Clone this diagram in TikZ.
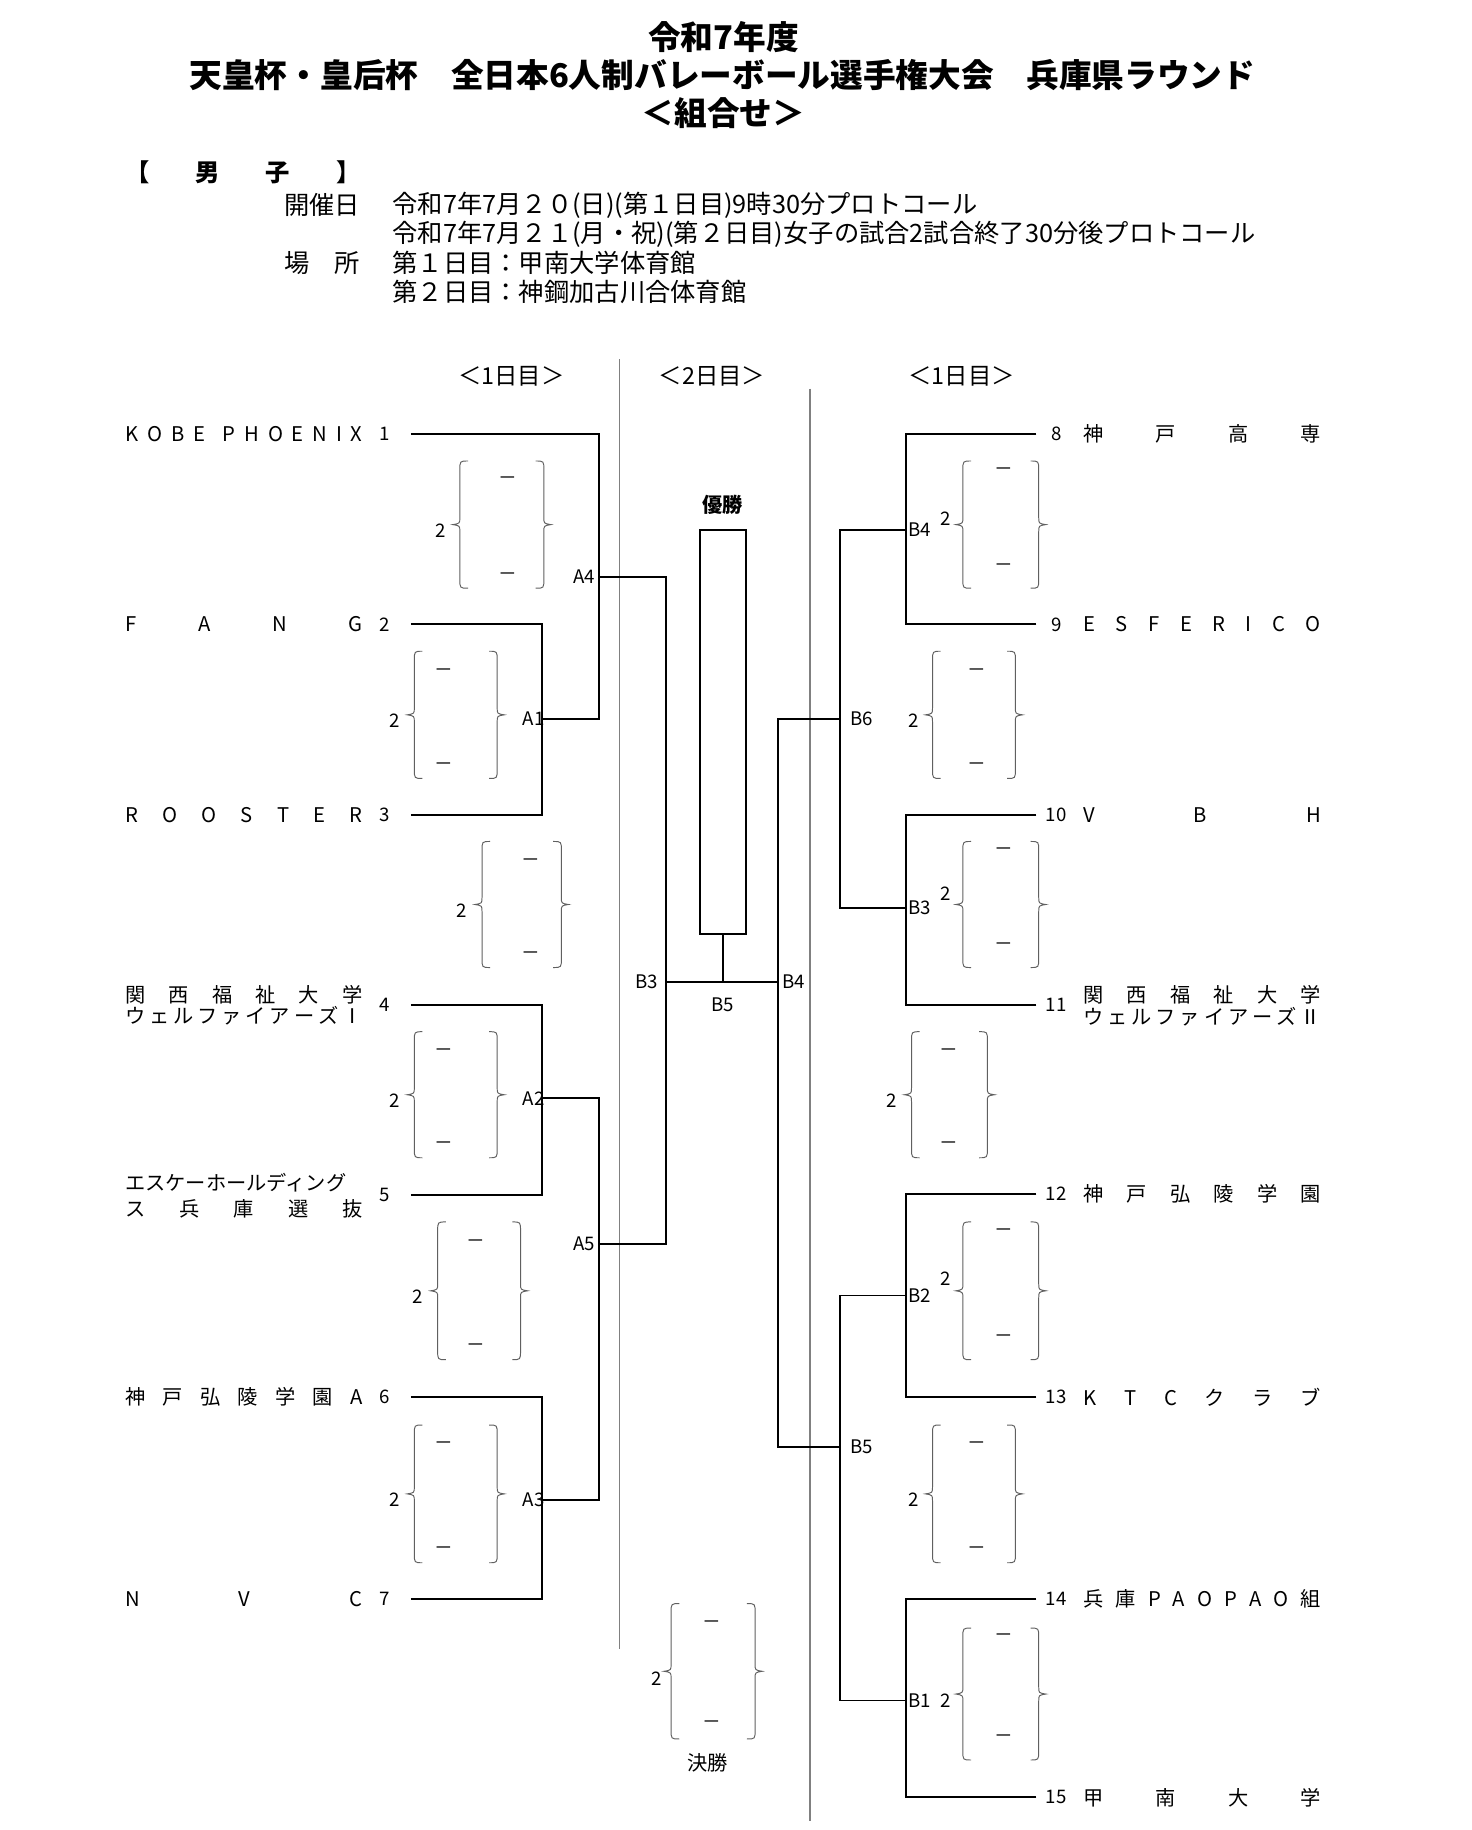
\documentclass[tikz,border=0pt]{standalone}
\usepackage{fontspec}
\setmainfont{Noto Sans CJK JP}
\newcommand{\tname}[1]{\makebox[122pt][s]{#1}}

\begin{document}
\begin{tikzpicture}[x=0.6pt,y=-0.6pt,
  every node/.style={inner sep=0pt},
  bline/.style={line width=1pt},
  divline/.style={gray,line width=0.6pt},
  brc/.style={gray!75!black,line width=0.5pt},
  title/.style={font=\fontsize{16.8}{20}\selectfont\bfseries},
  head/.style={font=\fontsize{13}{15}\selectfont},
  team/.style={font=\fontsize{10.4}{12}\selectfont,anchor=west},
  num/.style={font=\fontsize{9.6}{11}\selectfont}]
\useasboundingbox (0,0) rectangle (1261,1568);

\node[title] (ttl1) at (620,32) {令和7年度};
\node[title] (ttl2) at (619,64) {天皇杯・皇后杯　全日本6人制バレーボール選手権大会　兵庫県ラウンド};
\node[title] (ttl3) at (620,97) {＜組合せ＞};

\node[head,anchor=west,font=\fontsize{12.5}{15}\selectfont\bfseries] (sex) at (107,148) {\makebox[121pt][s]{【 男 子 】}};
\node[head,anchor=east] (kaisai) at (309,176) {開催日};
\node[head,anchor=west] (date1) at (336,176) {令和7年7月２０(日)(第１日目)9時30分プロトコール};
\node[head,anchor=west] (date2) at (336,201) {令和7年7月２１(月・祝)(第２日目)女子の試合2試合終了30分後プロトコール};
\node[head,anchor=east] (basho) at (309,225) {場　所};
\node[head,anchor=west] (place1) at (336,225) {第１日目：甲南大学体育館};
\node[head,anchor=west] (place2) at (336,250) {第２日目：神鋼加古川合体育館};

\node[team,anchor=center,font=\fontsize{12}{14}\selectfont] (day1l) at (438,322) {＜1日目＞};
\node[team,anchor=center,font=\fontsize{12}{14}\selectfont] (day2) at (610,322) {＜2日目＞};
\node[team,anchor=center,font=\fontsize{12}{14}\selectfont] (day1r) at (824,322) {＜1日目＞};
\draw[divline] (531,308) -- (531,1413);
\draw[divline] (694,333) -- (694,1560);

% left teams
\foreach \n/\y/\nm in {1/372/{K O B E\ \ P H O E N I X},2/535/{F A N G},3/698/{R O O S T E R},6/1197/{神 戸 弘 陵 学 園 A},7/1370/{N V C}}
  \node[team] (name\n) at (107,\y) {\tname{\nm}};
\node[team] (name4a) at (107,852) {\tname{関 西 福 祉 大 学}};
\node[team] (name4b) at (107,870) {\tname{ウ ェ ル フ ァ イ ア ー ズ Ⅰ}};
\node[team] (name5a) at (107,1013) {\tname{エスケーホールディング}};
\node[team] (name5b) at (107,1036) {\tname{ス 兵 庫 選 抜}};
\foreach \n/\y in {1/372,2/535,3/698,4/861,5/1024,6/1197,7/1370}{
  \node[num] (n\n) at (330,\y) {\n};
  \coordinate (t\n) at (352,\y);
}

% right teams
\foreach \n/\y/\nm in {8/372/{神 戸 高 専},9/535/{E S F E R I C O},10/698/{V B H},12/1023/{神 戸 弘 陵 学 園},13/1197/{K T C ク ラ ブ},14/1370/{兵 庫 P A O P A O 組},15/1540/{甲 南 大 学}}
  \node[team] (name\n) at (928,\y) {\tname{\nm}};
\node[team] (name11a) at (928,852) {\tname{関 西 福 祉 大 学}};
\node[team] (name11b) at (928,871) {\tname{ウ ェ ル フ ァ イ ア ー ズ Ⅱ}};
\foreach \n/\y in {8/372,9/535,10/698,11/861,12/1023,13/1197,14/1370,15/1540}{
  \node[num] (n\n) at (905,\y) {\n};
  \coordinate (t\n) at (888,\y);
}

% junctions
\coordinate (A1) at (464,616);
\coordinate (A2) at (464,941);
\coordinate (A3) at (464,1285);
\coordinate (A4) at (513,494);
\coordinate (A5) at (513,1066);
\coordinate (cl) at (571,841);
\coordinate (cr) at (667,841);
\coordinate (fin) at (619.5,841);
\coordinate (rB4) at (776,454);
\coordinate (rB3) at (776,778);
\coordinate (rB2) at (776,1110);
\coordinate (rB1) at (776,1457);
\coordinate (rB6) at (720,616);
\coordinate (rB5) at (720,1240);

\draw[bline] (t2) -| (A1) (t3) -| (A1) (t4) -| (A2) (t5) -| (A2) (t6) -| (A3) (t7) -| (A3)
  (t1) -| (A4) (A1) -| (A4) (A2) -| (A5) (A3) -| (A5) (A4) -| (cl) (A5) -| (cl);
\draw[bline] (t8) -| (rB4) (t9) -| (rB4) (t10) -| (rB3) (t11) -| (rB3) (t12) -| (rB2) (t13) -| (rB2)
  (t14) -| (rB1) (t15) -| (rB1) (rB4) -| (rB6) (rB3) -| (rB6) (rB2) -| (rB5) (rB1) -| (rB5)
  (rB6) -| (cr) (rB5) -| (cr);
\draw[bline] (cl) -- (cr);
\node[draw,line width=1pt,minimum width=23.4pt,minimum height=207.6pt] (win) at (619.5,627) {};
\draw[bline] (fin) -- (win.south);
\node[num,font=\fontsize{10.4}{12}\selectfont\bfseries] (yusho) at (619,433) {優勝};
\node[team,anchor=center] (kessho) at (606,1510) {決勝};

\node[num,anchor=east] (lA1) at (467,616) {A1};
\node[num,anchor=east] (lA2) at (467,941) {A2};
\node[num,anchor=east] (lA3) at (467,1285) {A3};
\node[num,anchor=east] (lA4) at (510,494) {A4};
\node[num,anchor=east] (lA5) at (510,1066) {A5};
\node[num,anchor=east] (lB3) at (564,841) {B3};
\node[num,anchor=west] (lB4) at (670,841) {B4};
\node[num] (lB5) at (619,861) {B5};
\node[num,anchor=west] (rlB4) at (778,454) {B4};
\node[num,anchor=west] (rlB3) at (778,778) {B3};
\node[num,anchor=west] (rlB2) at (778,1110) {B2};
\node[num,anchor=west] (rlB1) at (778,1457) {B1};
\node[num,anchor=west] (rlB6) at (728,616) {B6};
\node[num,anchor=west] (rlB5) at (728,1240) {B5};

% score braces
\foreach \xl/\xr/\yt/\yb/\dx/\tx/\ty/\da/\db [count=\k] in {
  394/466/395/504/435/378/5/17/10, 355/426/558/667/380/338/5/18/10,
  413/481/721/829/455/396/5/18/10, 355/426/884/992/380/338/5/18/10,
  375/446/1047/1165/408/358/5/19/10, 355/426/1221/1339/380/338/5/18/10,
  825/890/395/504/860/810/-5/9/18, 799/870/558/667/837/783/5/18/10,
  825/890/721/829/860/810/-9/9/18, 781/846/884/992/813/764/5/18/10,
  825/890/1047/1165/860/810/-10/9/18, 799/870/1221/1339/837/783/5/18/10,
  825/890/1395/1508/860/810/6/8/18, 575/647/1374/1490/610/563/6/18/12}{
  \pgfmathsetmacro\ym{(\yt+\yb)/2}
  \draw[brc] (\xl+7,\yt) .. controls (\xl,\yt) .. (\xl,\yt+8) -- (\xl,\ym-6)
    .. controls (\xl,\ym-1) .. (\xl-6,\ym) .. controls (\xl,\ym+1) .. (\xl,\ym+6)
    -- (\xl,\yb-8) .. controls (\xl,\yb) .. (\xl+7,\yb);
  \draw[brc] (\xr-7,\yt) .. controls (\xr,\yt) .. (\xr,\yt+8) -- (\xr,\ym-6)
    .. controls (\xr,\ym-1) .. (\xr+6,\ym) .. controls (\xr,\ym+1) .. (\xr,\ym+6)
    -- (\xr,\yb-8) .. controls (\xr,\yb) .. (\xr-7,\yb);
  \node[num] (sc\k) at (\tx,\ym+\ty) {2};
  \node[num] (da\k) at (\dx,\yt+\da) {－};
  \node[num] (db\k) at (\dx,\yb-\db) {－};
}
\end{tikzpicture}
\end{document}
